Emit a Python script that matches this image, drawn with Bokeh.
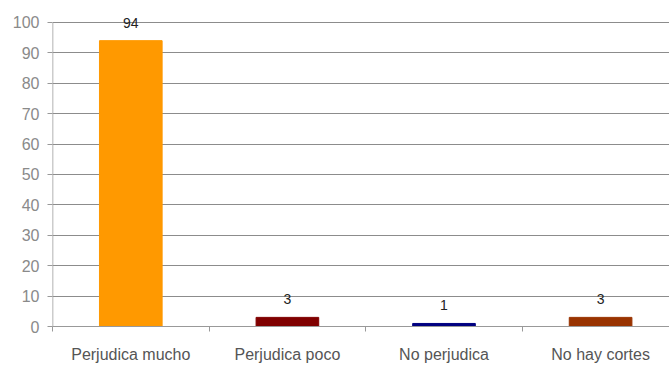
from bokeh.plotting import figure
from bokeh.models import Range1d, FixedTicker, ColumnDataSource, LabelSet
from bokeh.core.properties import value
from bokeh.embed import file_html
from bokeh.resources import INLINE

# Survey answers and their share (%)
categories = ["Perjudica mucho", "Perjudica poco", "No perjudica", "No hay cortes"]
percentages = [94, 3, 1, 3]
bar_colors = ["#FF9900", "#800000", "#000080", "#993300"]
y_ticks = list(range(0, 101, 10))

FONT = "Liberation Sans"
AXIS_GREY = "#999999"

positions = list(range(len(categories)))
source = ColumnDataSource(dict(
    x=positions,
    top=percentages,
    color=bar_colors,
    label=[str(v) for v in percentages],
))

# headroom above 100 so the value label of the tallest bar fits inside the frame
Y_MAX = 107.2

p = figure(
    width=669, height=365,
    x_range=Range1d(-0.5, 3.44),
    y_range=Range1d(0, Y_MAX),
    output_backend="svg", toolbar_location=None,
    min_border_left=52, min_border_right=0,
    min_border_top=0, min_border_bottom=39,
)
p.outline_line_color = None
p.background_fill_color = "white"
p.border_fill_color = "white"

p.vbar(x="x", top="top", width=0.4, color="color", source=source)

labels = LabelSet(x="x", y="top", text="label", source=source,
                  text_font=value(FONT), text_font_size=value("14px"),
                  text_color=value("#222222"),
                  text_align="center", text_baseline="middle", y_offset=18)
p.add_layout(labels)

# y axis: its line only spans the 0–100 scale
p.segment(x0=[-0.5], y0=[y_ticks[0]], x1=[-0.5], y1=[y_ticks[-1]],
          line_color=AXIS_GREY, line_width=1.5)
p.yaxis.ticker = FixedTicker(ticks=y_ticks)
p.yaxis.axis_line_color = None
p.yaxis.major_tick_line_color = AXIS_GREY
p.yaxis.major_tick_out = 5
p.yaxis.major_tick_in = 0
p.yaxis.minor_tick_line_color = None
p.yaxis.major_label_text_font = FONT
p.yaxis.major_label_text_font_size = "16px"
p.yaxis.major_label_text_color = "#8a8a8a"
p.yaxis.major_label_standoff = 8

# x axis: labels at category centres, tick marks at category boundaries
p.xaxis.ticker = FixedTicker(ticks=positions, minor_ticks=[-0.5, 0.5, 1.5, 2.5])
p.xaxis.major_label_overrides = {i: c for i, c in zip(positions, categories)}
p.xaxis.axis_line_color = AXIS_GREY
p.xaxis.major_tick_line_color = None
p.xaxis.minor_tick_line_color = AXIS_GREY
p.xaxis.minor_tick_out = 5
p.xaxis.minor_tick_in = 0
p.xaxis.major_label_text_font = FONT
p.xaxis.major_label_text_font_size = "16px"
p.xaxis.major_label_text_color = "#555555"
p.xaxis.major_label_standoff = 13

p.xgrid.grid_line_color = None
p.ygrid.ticker = FixedTicker(ticks=y_ticks)
p.ygrid.grid_line_color = "#8c8c8c"
p.ygrid.grid_line_width = 1

open("out.html", "w").write(file_html(p, INLINE))
